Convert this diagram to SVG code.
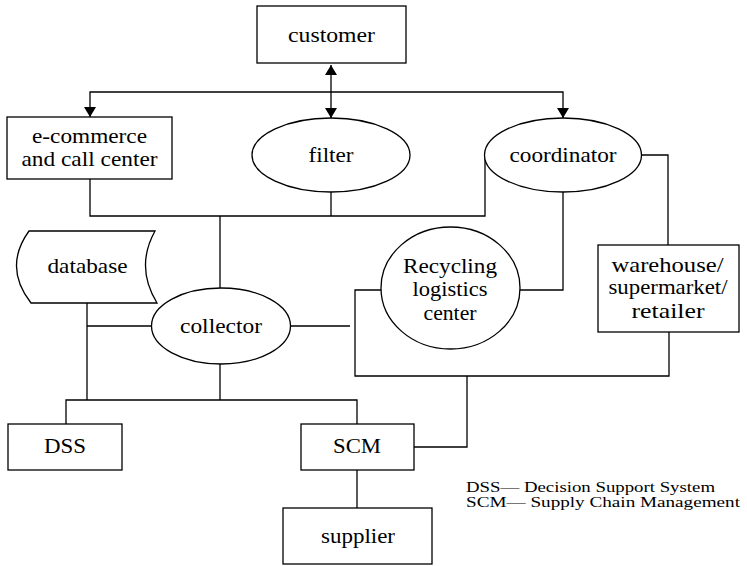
<svg xmlns="http://www.w3.org/2000/svg" width="747" height="566" viewBox="0 0 747 566">
<defs>
<marker id="ah" viewBox="0 0 10 12" refX="10" refY="6" markerWidth="10" markerHeight="12" markerUnits="userSpaceOnUse" orient="auto-start-reverse">
<path d="M0,0 L10,6 L0,12 Z" fill="#000"/>
</marker>
<style>
.nd{fill:#fff;stroke:#000;stroke-width:1.3}
.cn{fill:none;stroke:#000;stroke-width:1.3}
</style>
</defs>
<rect width="747" height="566" fill="#fff"/>
<g id="connectors">
<path class="cn" d="M331,65 L331,118" marker-start="url(#ah)" marker-end="url(#ah)"/>
<path class="cn" d="M90,117 L90,92 L563,92 L563,118" marker-start="url(#ah)" marker-end="url(#ah)"/>
<path class="cn" d="M90,179 L90,216 L485,216 L485,155"/>
<path class="cn" d="M331,192 L331,216"/>
<path class="cn" d="M220,216 L220,288"/>
<path class="cn" d="M642,155 L668,155 L668,245"/>
<path class="cn" d="M563,192 L563,290 L520,290"/>
<path class="cn" d="M381,290 L355,290 L355,376 L669,376 L669,332"/>
<path class="cn" d="M467,376 L467,447 L414,447"/>
<path class="cn" d="M290,326 L350,326"/>
<path class="cn" d="M87,303 L87,400"/>
<path class="cn" d="M87,326 L152,326"/>
<path class="cn" d="M220,364 L220,400"/>
<path class="cn" d="M66,424 L66,400 L357,400 L357,424"/>
<path class="cn" d="M357,470 L357,508"/>
</g>
<g font-family="'Liberation Serif', 'Times New Roman', serif" font-size="21" fill="#000" text-anchor="middle">
<g id="customer">
<rect class="nd" x="257" y="6" width="149" height="57"/>
<text x="331.5" y="42" textLength="87" lengthAdjust="spacingAndGlyphs">customer</text>
</g>
<g id="ecommerce">
<rect class="nd" x="7" y="117" width="165" height="62"/>
<text x="89.5" y="143" textLength="115" lengthAdjust="spacingAndGlyphs">e-commerce</text>
<text x="89.5" y="166" textLength="136" lengthAdjust="spacingAndGlyphs">and call center</text>
</g>
<g id="filter">
<ellipse class="nd" cx="331" cy="155" rx="79" ry="37"/>
<text x="331" y="162" textLength="45" lengthAdjust="spacingAndGlyphs">filter</text>
</g>
<g id="coordinator">
<ellipse class="nd" cx="563" cy="155" rx="78.5" ry="37"/>
<text x="563" y="162" textLength="107" lengthAdjust="spacingAndGlyphs">coordinator</text>
</g>
<g id="database">
<path class="nd" d="M29,231 L155,231 Q135,267 157,303 L31,303 Q3,267 29,231 Z"/>
<text x="87.5" y="273" textLength="80" lengthAdjust="spacingAndGlyphs">database</text>
</g>
<g id="collector">
<ellipse class="nd" cx="221" cy="326" rx="69.5" ry="38"/>
<text x="221" y="333" textLength="82" lengthAdjust="spacingAndGlyphs">collector</text>
</g>
<g id="recycling">
<ellipse class="nd" cx="450.5" cy="288" rx="69.5" ry="61"/>
<text x="450" y="273" textLength="94" lengthAdjust="spacingAndGlyphs">Recycling</text>
<text x="450" y="296" textLength="75" lengthAdjust="spacingAndGlyphs">logistics</text>
<text x="450" y="320" textLength="53" lengthAdjust="spacingAndGlyphs">center</text>
</g>
<g id="warehouse">
<rect class="nd" x="598" y="245" width="141" height="87"/>
<text x="667.5" y="272" textLength="112" lengthAdjust="spacingAndGlyphs">warehouse/</text>
<text x="668" y="294" textLength="119" lengthAdjust="spacingAndGlyphs">supermarket/</text>
<text x="668" y="318" textLength="73" lengthAdjust="spacingAndGlyphs">retailer</text>
</g>
<g id="dss">
<rect class="nd" x="8" y="424" width="114" height="46"/>
<text x="65" y="453" textLength="42" lengthAdjust="spacingAndGlyphs">DSS</text>
</g>
<g id="scm">
<rect class="nd" x="301" y="424" width="113" height="46"/>
<text x="357" y="453" textLength="48" lengthAdjust="spacingAndGlyphs">SCM</text>
</g>
<g id="supplier">
<rect class="nd" x="283" y="508" width="149" height="56"/>
<text x="358" y="543" textLength="74" lengthAdjust="spacingAndGlyphs">supplier</text>
</g>
</g>
<g id="legend" font-family="'Liberation Serif', 'Times New Roman', serif" font-size="14.5" fill="#000">
<text x="466" y="491.5" textLength="249" lengthAdjust="spacingAndGlyphs">DSS— Decision Support System</text>
<text x="466" y="506.5" textLength="274" lengthAdjust="spacingAndGlyphs">SCM— Supply Chain Management</text>
</g>
</svg>
